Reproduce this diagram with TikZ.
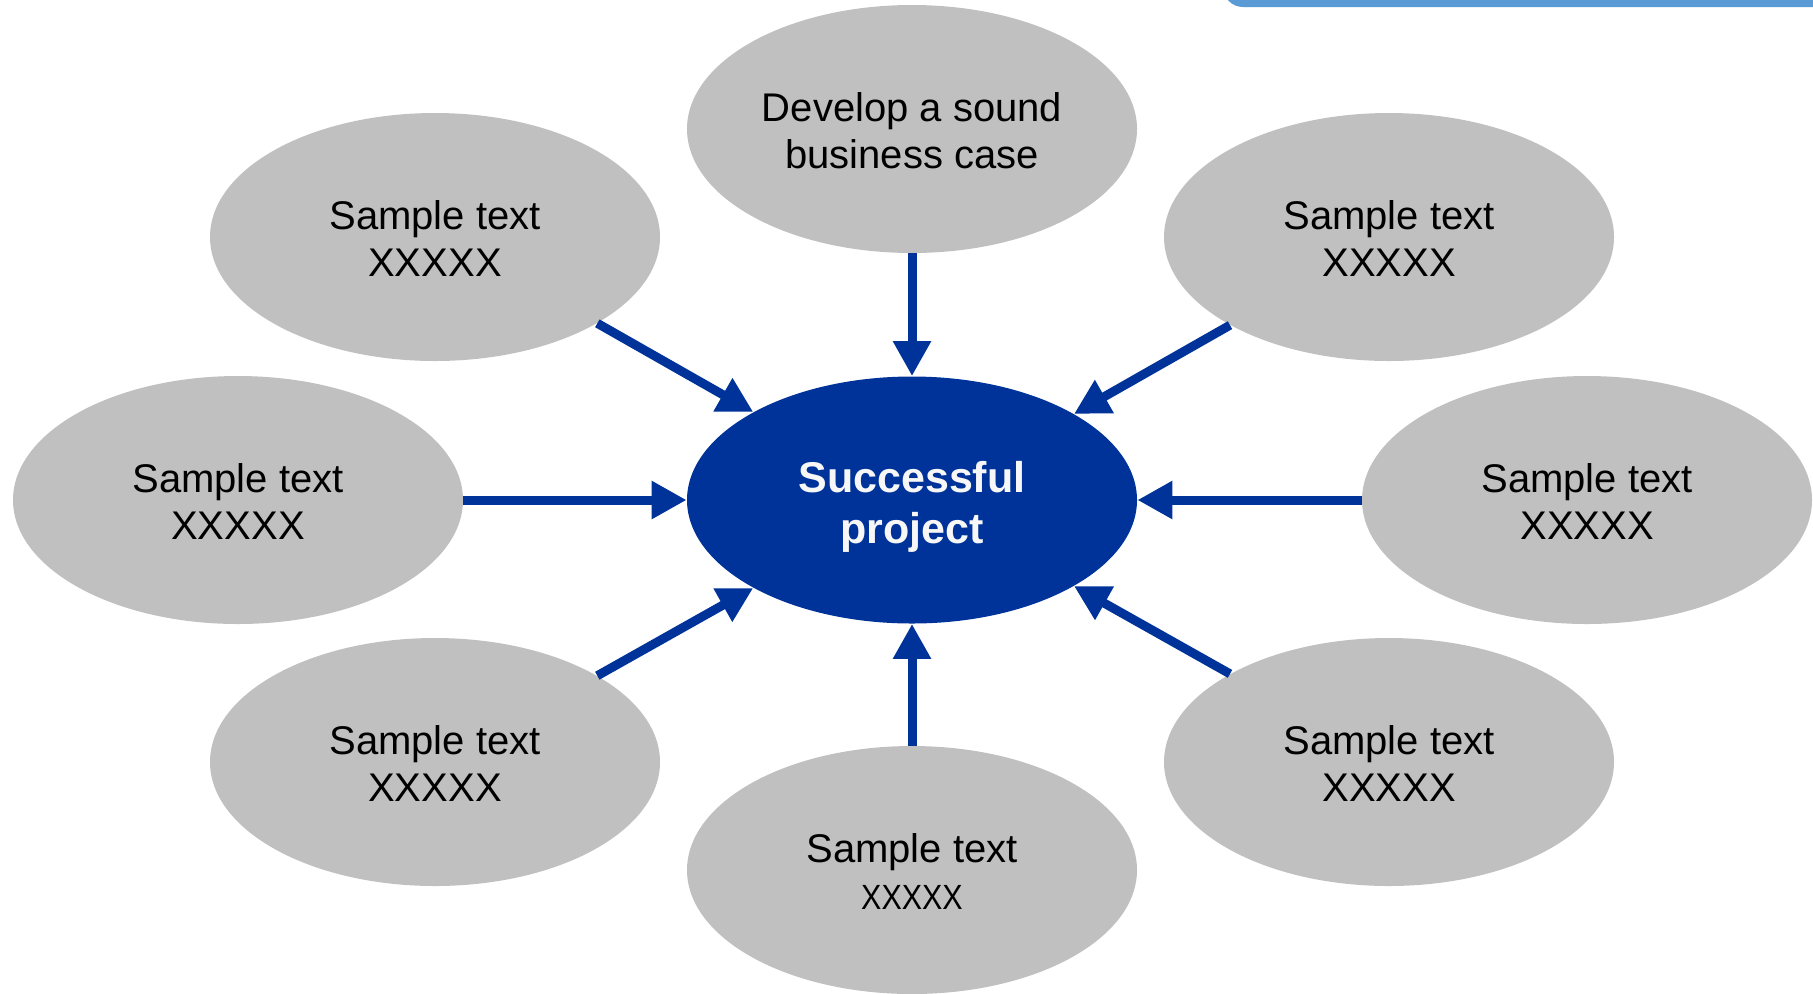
\documentclass[tikz,border=0pt]{standalone}
\usepackage{graphicx}
\usepackage{fontspec}
\setmainfont{Liberation Sans}
\usetikzlibrary{shapes.geometric,arrows.meta}
\definecolor{bubble}{HTML}{C0C0C0}
\definecolor{navy}{HTML}{003399}
\definecolor{tabblue}{HTML}{5B9BD5}
\tikzset{
  bubble/.style={ellipse,fill=bubble,draw=none,minimum width=225pt,minimum height=124pt,inner sep=0pt,align=center,font=\fontsize{20}{23.5}\selectfont,text=black},
  hub/.style={ellipse,fill=navy,draw=none,minimum width=225pt,minimum height=123.5pt,inner sep=0pt,align=center,font=\fontsize{21.5}{25.5}\selectfont\bfseries,text=white!97!black},
  feed/.style={draw=navy,line width=4.5pt,-{Triangle[length=17.5pt,width=18pt]}}
}
\begin{document}
\begin{tikzpicture}[x=0.5pt,y=-0.5pt]
\useasboundingbox (0,0) rectangle (1813,993);
\begin{scope}
\clip (0,0) rectangle (1813,993);
\fill[tabblue,rounded corners=10pt] (1223,-60) rectangle (1850,7);
\end{scope}
\node[hub] (c) at (912,500) {\rule{0pt}{22pt}Successful\\project};
\node[bubble] (t) at (912,129) {\rule{0pt}{16pt}Develop a sound\\business case};
\node[bubble] (ul) at (435,237) {\rule{0pt}{15.5pt}Sample text\\XXXXX};
\node[bubble] (ur) at (1389,237) {\rule{0pt}{15.5pt}Sample text\\XXXXX};
\node[bubble] (l) at (238,500) {\rule{0pt}{15.5pt}Sample text\\XXXXX};
\node[bubble] (r) at (1587,500) {\rule{0pt}{15.5pt}Sample text\\XXXXX};
\node[bubble] (ll) at (435,762) {\rule{0pt}{15.5pt}Sample text\\XXXXX};
\node[bubble] (lr) at (1389,762) {\rule{0pt}{15.5pt}Sample text\\XXXXX};
\node[bubble] (b) at (912,870) {\rule{0pt}{16pt}Sample text\\{\fontsize{17.5}{21}\selectfont\scalebox{0.87}[1]{XXXXX}}};
\draw[feed] (t.south) -- (c.north);
\draw[feed] (b.north) -- (c.south);
\draw[feed] (l.east) -- (c.west);
\draw[feed] (r.west) -- (c.east);
\draw[feed] (ul.-28.9) -- (c.151.2);
\draw[feed] (ur.-151.1) -- (c.28.8);
\draw[feed] (ll.28.9) -- (c.-151.2);
\draw[feed] (lr.151.1) -- (c.-28.8);
\end{tikzpicture}
\end{document}
